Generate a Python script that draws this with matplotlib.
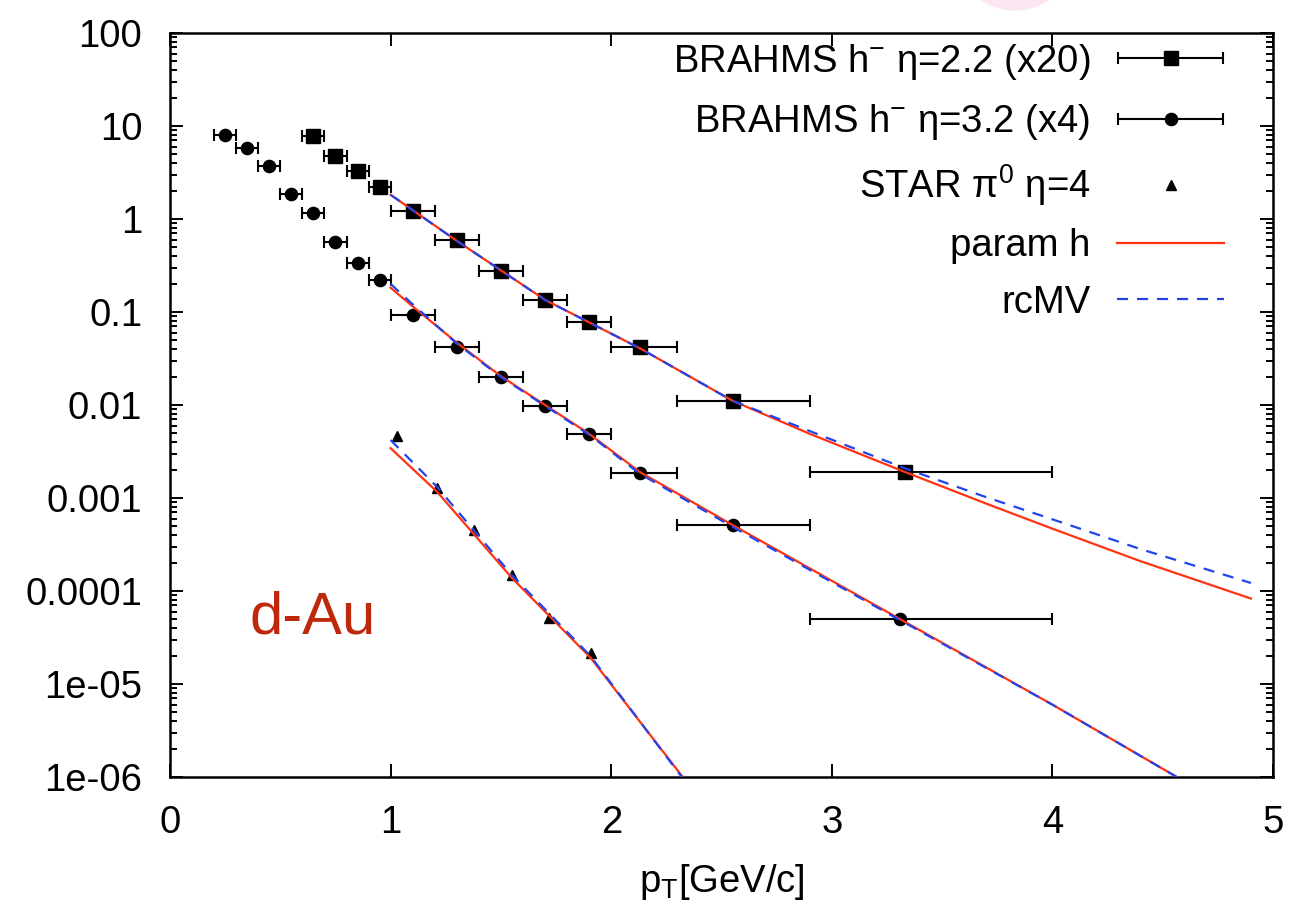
import matplotlib
matplotlib.use("Agg")
import matplotlib.pyplot as plt
from matplotlib.patches import Ellipse
from matplotlib.container import ErrorbarContainer
from matplotlib.legend_handler import HandlerErrorbar
import numpy as np

plt.rcParams['font.family'] = ['Liberation Sans', 'DejaVu Sans']
plt.rcParams['mathtext.fontset'] = 'custom'
plt.rcParams['mathtext.rm'] = 'Liberation Sans'
plt.rcParams['mathtext.it'] = 'Liberation Sans:italic'

# BRAHMS h- eta=2.2 (x20)
sq_pt = [0.65, 0.75, 0.85, 0.95, 1.1, 1.3, 1.5, 1.7, 1.9, 2.13, 2.55, 3.33]
sq_val = [7.8, 4.77, 3.32, 2.22, 1.21, 0.596, 0.274, 0.136, 0.078, 0.042, 0.0111, 0.0019]
sq_lo = [0.6, 0.7, 0.8, 0.9, 1.0, 1.2, 1.4, 1.6, 1.8, 2.0, 2.3, 2.9]
sq_hi = [0.7, 0.8, 0.9, 1.0, 1.2, 1.4, 1.6, 1.8, 2.0, 2.3, 2.9, 4.0]

# BRAHMS h- eta=3.2 (x4)
ci_pt = [0.25, 0.35, 0.45, 0.55, 0.65, 0.75, 0.85, 0.95, 1.1, 1.3, 1.5, 1.7, 1.9, 2.13, 2.55, 3.31]
ci_val = [8.0, 5.8, 3.7, 1.87, 1.16, 0.567, 0.34, 0.222, 0.0935, 0.042, 0.020, 0.0098,
          0.0049, 0.00185, 0.000507, 5.04e-5]
ci_lo = [0.2, 0.3, 0.4, 0.5, 0.6, 0.7, 0.8, 0.9, 1.0, 1.2, 1.4, 1.6, 1.8, 2.0, 2.3, 2.9]
ci_hi = [0.3, 0.4, 0.5, 0.6, 0.7, 0.8, 0.9, 1.0, 1.2, 1.4, 1.6, 1.8, 2.0, 2.3, 2.9, 4.0]

# STAR pi0 eta=4
tr_pt = [1.03, 1.21, 1.38, 1.55, 1.72, 1.91]
tr_val = [4.64e-3, 1.28e-3, 4.49e-4, 1.48e-4, 5.17e-5, 2.14e-5]

# param h curves
ph1_pt = [1.0, 1.3, 1.7, 2.13, 2.55, 2.9, 3.33, 3.7, 4.0, 4.4, 4.9]
ph1_val = [1.82, 0.582, 0.135, 0.0407, 0.0111, 0.0049, 0.00191, 8.7e-4, 4.68e-4, 2.09e-4, 8.3e-5]
ph2_pt = [1.0, 1.1, 1.3, 1.5, 1.7, 1.9, 2.13, 2.55, 3.3, 4.0, 4.564]
ph2_val = [0.182, 0.115, 0.0468, 0.0204, 0.0100, 0.0049, 0.0019, 5.13e-4, 5.13e-5, 6.0e-6, 1.0e-6]
ph3_pt = [1.0, 1.21, 1.55, 1.906, 2.324]
ph3_val = [3.43e-3, 1.17e-3, 1.38e-4, 1.92e-5, 1.0e-6]

# rcMV curves
mv1_pt = [1.0, 1.3, 1.7, 2.13, 2.55, 2.9, 3.33, 3.7, 4.0, 4.4, 4.9]
mv1_val = [1.82, 0.582, 0.135, 0.0407, 0.0111, 0.00525, 0.00209, 1.02e-3, 5.9e-4, 2.82e-4, 1.22e-4]
mv2_pt = [1.0, 1.1, 1.3, 1.5, 1.7, 1.9, 2.13, 2.55, 3.3, 4.0, 4.564]
mv2_val = [0.200, 0.121, 0.0457, 0.0200, 0.0098, 0.0048, 0.00182, 4.9e-4, 5.0e-5, 6.0e-6, 1.0e-6]
mv3_pt = [1.0, 1.21, 1.55, 1.906, 2.32]
mv3_val = [4.2e-3, 1.32e-3, 1.48e-4, 2.0e-5, 1.0e-6]

ytick_vals = [1e-6, 1e-5, 1e-4, 1e-3, 1e-2, 1e-1, 1, 10, 100]
ytick_labels = ['1e-06', '1e-05', '0.0001', '0.001', '0.01', '0.1', '1', '10', '100']

red = '#ff3311'
blue = '#2244ee'
fs = 27.5

fig = plt.figure(figsize=(12.92, 9.01), dpi=100)
ax = fig.add_axes([0.1316, 0.1376, 0.8537, 0.8258])

# faint pink blob at the top edge (scan artefact)
fig.patches.append(Ellipse((1015 / 1292, 1 + 50 / 901), 120 / 1292, 120 / 901,
                           transform=fig.transFigure, color='#fbe6f2', zorder=0))

def xerrs(pt, lo, hi):
    pt = np.array(pt)
    return [pt - np.array(lo), np.array(hi) - pt]

eb_kw = dict(color='black', ecolor='black', elinewidth=1.5, capsize=4, capthick=1.5,
             linestyle='none', zorder=3)
h1 = ax.errorbar(sq_pt, sq_val, xerr=xerrs(sq_pt, sq_lo, sq_hi), marker='s', ms=9.6, **eb_kw)
h2 = ax.errorbar(ci_pt, ci_val, xerr=xerrs(ci_pt, ci_lo, ci_hi), marker='o', ms=8.8, **eb_kw)
h3, = ax.plot(tr_pt, tr_val, marker='^', ms=7, color='black', linestyle='none', zorder=3)

h4, = ax.plot(ph1_pt, ph1_val, color=red, lw=1.6, zorder=4)
ax.plot(ph2_pt, ph2_val, color=red, lw=1.6, zorder=4)
ax.plot(ph3_pt, ph3_val, color=red, lw=1.6, zorder=4)
h5, = ax.plot(mv1_pt, mv1_val, color=blue, lw=1.6, dashes=(5, 4), zorder=5)
ax.plot(mv2_pt, mv2_val, color=blue, lw=1.6, dashes=(5, 4), zorder=5)
ax.plot(mv3_pt, mv3_val, color=blue, lw=1.6, dashes=(5, 4), zorder=5)

ax.set_yscale('log')
ax.set_xlim(0, 5)
ax.set_ylim(1e-6, 100)
ax.set_yticks(ytick_vals)
ax.set_yticklabels(ytick_labels)
ax.yaxis.set_minor_locator(matplotlib.ticker.LogLocator(base=10, subs=np.arange(2, 10)))
ax.yaxis.set_minor_formatter(matplotlib.ticker.NullFormatter())
ax.set_xticks([0, 1, 2, 3, 4, 5])
ax.set_xticklabels(['0', '1', '2', '3', '4', '5'])

ax.tick_params(which='both', direction='in', top=True, right=True, width=1.4,
               labelsize=fs, pad=20)
ax.tick_params(which='major', length=9.5)
ax.tick_params(which='minor', length=5)
for s in ax.spines.values():
    s.set_linewidth(1.8)

ax.set_xlabel(r'p$_{\mathrm{T}}$[GeV/c]', fontsize=fs, labelpad=15)

ax.text(0.0725, 0.1935, 'd-Au', transform=ax.transAxes, fontsize=43,
        color='#c0280c', va='baseline', ha='left')

leg = ax.legend([h1, h2, h3, h4, h5],
                [r'BRAHMS h$^{-}$ η=2.2 (x20)', r'BRAHMS h$^{-}$ η=3.2 (x4)',
                 r'STAR π$^{0}$ η=4', 'param h', 'rcMV'],
                loc='upper right', bbox_to_anchor=(0.98, 1.024), frameon=False,
                markerfirst=False, numpoints=1, fontsize=fs, handlelength=2.8,
                handletextpad=0.7, labelspacing=0.53, borderaxespad=0.3,
                handler_map={ErrorbarContainer: HandlerErrorbar(xerr_size=1.38)})

fig.savefig('out.png', dpi=100)
